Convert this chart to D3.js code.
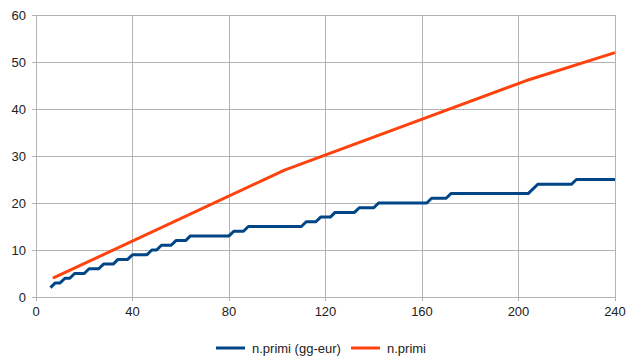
<!DOCTYPE html>
<html><head><meta charset="utf-8">
<script src="https://cdn.jsdelivr.net/npm/d3@7"></script>
<style>body{margin:0;background:#fff}svg{display:block;font-family:"Liberation Sans",Arial,sans-serif}</style>
</head><body><svg id="c" width="640" height="360"></svg>
<script>
// Blue series vertices (x, value)
const blueX = [6,8,10,12,14,16,20,22,26,28,32,34,38,40,46,48,50,52,56,58,62,64,80,82,86,88,110,112,116,118,122,124,132,134,140,142,162,164,170,172,204,208,222,224,240];
const blueY = [2,3,3,4,4,5,5,6,6,7,7,8,8,9,9,10,10,11,11,12,12,13,13,14,14,15,15,16,16,17,17,18,18,19,19,20,20,21,21,22,22,24,24,25,25];
// Orange series vertices
const orangeX = [7,103,203,240];
const orangeY = [4,27,46,52];
const xTicks = [0,40,80,120,160,200,240];
const yTicks = [0,10,20,30,40,50,60];
const seriesNames = ["n.primi (gg-eur)","n.primi"];
const colors = ["#004586","#ff420e"];

const svg = d3.select("#c");
const L=36,R=615,T=15,B=297;
const x = d3.scaleLinear().domain([0,240]).range([L,R]);
const y = d3.scaleLinear().domain([0,60]).range([B,T]);

const grid = svg.append("g").attr("stroke","#b3b3b3").attr("stroke-width",1).attr("shape-rendering","crispEdges");
xTicks.forEach(t=>grid.append("line").attr("x1",x(t)).attr("x2",x(t)).attr("y1",T).attr("y2",B+4));
yTicks.forEach(t=>grid.append("line").attr("x1",L-4).attr("x2",R).attr("y1",y(t)).attr("y2",y(t)));

const tx = svg.append("g").attr("font-size",13).attr("fill","#222");
xTicks.forEach(t=>tx.append("text").attr("x",x(t)).attr("y",B+19).attr("text-anchor","middle").text(t));
yTicks.forEach(t=>tx.append("text").attr("x",L-10).attr("y",y(t)+4.5).attr("text-anchor","end").text(t));

const line = d3.line().x(d=>x(d[0])).y(d=>y(d[1]));
const blue = blueX.map((v,i)=>[v,blueY[i]]);
const orange = orangeX.map((v,i)=>[v,orangeY[i]]);
svg.append("path").attr("d",line(blue)).attr("fill","none").attr("stroke",colors[0]).attr("stroke-width",3).attr("stroke-linejoin","round");
svg.append("path").attr("d",line(orange)).attr("fill","none").attr("stroke",colors[1]).attr("stroke-width",3).attr("stroke-linejoin","round");

const lg = svg.append("g").attr("font-size",13).attr("fill","#222");
const items=[{x:216,name:seriesNames[0],c:colors[0]},{x:351,name:seriesNames[1],c:colors[1]}];
items.forEach(it=>{
  lg.append("line").attr("x1",it.x).attr("x2",it.x+29).attr("y1",348).attr("y2",348).attr("stroke",it.c).attr("stroke-width",3);
  lg.append("text").attr("x",it.x+36).attr("y",352.5).text(it.name);
});
</script></body></html>
